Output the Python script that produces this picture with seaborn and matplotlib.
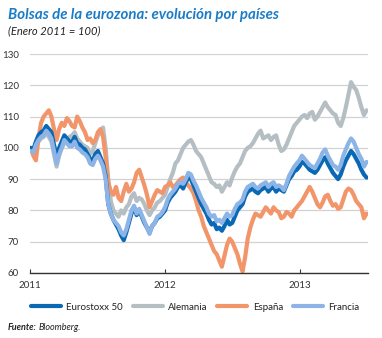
import matplotlib
matplotlib.use("Agg")
import matplotlib.pyplot as plt
import seaborn as sns
import pandas as pd
from matplotlib.lines import Line2D

# ---- data (weekly, Jan 2011 = 100) ----
start_date = "2011-01-03"
eurostoxx = [100, 99.5, 102, 104, 105, 105.5, 107, 106, 105, 101,
             97.5, 100, 102, 104, 103, 102, 102, 103.5, 101.5, 101,
             100, 99.5, 98, 96.5, 96, 98, 99, 97, 95, 91,
             82, 79, 77, 75.5, 74, 72, 70.5, 73, 76, 79,
             81, 78.5, 80, 78, 76, 74.5, 73, 75, 76, 77.5,
             78, 79, 80, 82.5, 84, 85, 86, 87.5, 88, 87,
             89, 90.5, 90, 88, 86, 84, 82, 80.5, 79, 77,
             75.5, 76, 74, 74.5, 73.5, 75, 77, 75.5, 76, 78,
             80, 81, 82, 84.5, 86, 86.5, 87, 86, 85.5, 86.5,
             87, 87.5, 86, 87, 87.5, 86, 87, 86.5, 86, 88,
             90, 91, 92.5, 93, 94, 95.5, 95, 94, 93, 92.5,
             92, 93, 94.5, 96, 97, 95, 93.5, 92, 91, 90,
             91.5, 94, 96, 97.5, 99, 98, 96.5, 95, 93, 91.5,
             90.5]
francia = [99, 98.5, 101, 102.5, 103.5, 104, 105.5, 104.5, 103, 99,
           95, 98, 100, 102.5, 101.5, 100.5, 100.5, 102, 100, 99.5,
           98.5, 98, 97, 95, 94.5, 96.5, 97.5, 96, 94, 90,
           82, 79, 77, 76, 75, 73, 72, 74, 77, 80,
           81.5, 79, 80.5, 78.5, 76.5, 74.5, 72.5, 75, 76, 78,
           78.5, 79.5, 81, 83.5, 85, 86, 87, 88.5, 89, 88.5,
           90, 92, 91.5, 89.5, 88, 86, 84, 82.5, 81, 79,
           78, 78.5, 76.5, 77, 76, 77.5, 79, 78, 78.5, 80.5,
           82, 82.5, 83.5, 86, 87.5, 88, 88.5, 87.5, 87, 88,
           88.5, 89, 87.5, 88.5, 89, 87.5, 88, 87.5, 86.5, 88.5,
           91, 92.5, 94, 95, 96, 97.5, 96.5, 95.5, 94.5, 94,
           93.5, 95, 96.5, 98.5, 99.5, 97.5, 96, 94.5, 94, 93,
           94.5, 97.5, 99.5, 101.5, 103, 102, 100, 98, 96.5, 94,
           95.5]
alemania = [100, 98.5, 100.5, 102, 103, 103.5, 104.5, 103.5, 102, 98,
            94, 97.5, 100, 101.5, 102.5, 103.5, 104, 105, 103, 102,
            101, 100.5, 100, 98, 99, 101.5, 104, 105, 106.5, 100,
            90, 83, 80, 79, 78, 80, 79, 81, 82, 84.5,
            85.5, 83, 84, 83.5, 82, 80, 78.5, 80, 81, 82.5,
            83, 84, 85, 87.5, 90, 92, 95, 96, 98, 100,
            101, 102, 102.5, 101, 99, 98, 97, 95, 93, 91,
            89, 88.5, 87.5, 88, 86, 87.5, 89, 88, 90.5, 92.5,
            94, 95, 97, 99, 100, 100.5, 101.5, 103, 104.5, 105.5,
            103, 103.5, 104, 102.5, 103.5, 104, 101, 99, 99.5, 101,
            103, 105, 107, 108, 109, 110, 110.5, 109.5, 111, 111.5,
            109, 110, 111.5, 113, 114.5, 113, 112, 111, 110.5, 108,
            107, 109.5, 113, 117, 121, 119.5, 118.5, 116, 113, 110.5,
            112]
espana = [100, 97.5, 96, 103, 108, 110, 111, 112, 110, 106,
          102.5, 106, 108, 107, 109.5, 108.5, 107, 106.5, 110, 108.5,
          106.5, 105, 102.5, 103, 101.5, 102.5, 105, 106, 103.5, 97,
          89, 86, 85, 87.5, 84, 83, 86, 88.5, 86, 87,
          89, 92, 93, 90.5, 88, 85, 81, 83, 85, 86.5,
          86, 85.5, 87.5, 88, 89, 87.5, 88, 89, 90, 90.5,
          89, 88, 87, 85.5, 83, 80, 78, 75, 73, 71,
          69, 67, 66, 64, 62, 65.5, 69, 71, 70, 68,
          66, 63, 60.5, 65, 71, 74.5, 77, 79, 78.5, 78,
          79.5, 81, 80, 79, 81, 80, 79.5, 77.5, 78, 79.5,
          79, 78, 80, 81, 82, 83, 84.5, 86, 87.5, 86,
          84, 82, 81, 82.5, 84.5, 85, 83, 81.5, 82, 80.5,
          81, 83.5, 86, 87, 86.5, 85, 83, 82, 81, 77.5,
          79]
series_names = ["Eurostoxx 50", "Alemania", "España", "Francia"]
colors = ["#0a69b4", "#b5bfc3", "#f2956a", "#8cb4e6"]
y_ticks = [60, 70, 80, 90, 100, 110, 120, 130]
x_tick_labels = ["2011", "2012", "2013"]

frames = []
for name, vals in zip(series_names, [eurostoxx, alemania, espana, francia]):
    dates = pd.date_range(start_date, periods=len(vals), freq="7D")
    frames.append(pd.DataFrame({"fecha": dates, "valor": vals, "serie": name}))
df = pd.concat(frames)

sns.set_theme(style="white")
plt.rcParams["font.family"] = ["Lato", "DejaVu Sans"]

fig = plt.figure(figsize=(3.82, 3.38), dpi=100)
ax = fig.add_axes([30 / 382, 1 - 273 / 338, 338 / 382, 219 / 338])

palette = dict(zip(series_names, colors))
draw_order = ["Alemania", "España", "Eurostoxx 50", "Francia"]
for i, name in enumerate(draw_order):
    sns.lineplot(data=df[df["serie"] == name], x="fecha", y="valor",
                 color=palette[name], lw=3.0, ax=ax, zorder=3 + i,
                 legend=False)

ax.set_ylim(60, 130)
ax.set_yticks(y_ticks)
ax.set_xlim(pd.Timestamp("2011-01-01"), pd.Timestamp("2013-07-05"))
ax.set_xticks([pd.Timestamp(f"{y}-01-01") for y in x_tick_labels])
ax.set_xticklabels(x_tick_labels)
ax.set_xlabel("")
ax.set_ylabel("")

ax.grid(axis="y", color="#d2d2d2", lw=0.9)
ax.grid(axis="x", visible=False)
for s in ["top", "right", "left"]:
    ax.spines[s].set_visible(False)
ax.spines["bottom"].set_color("#333333")
ax.spines["bottom"].set_linewidth(1.0)
ax.spines["bottom"].set_zorder(10)

ax.tick_params(axis="y", length=0, pad=8, labelsize=7, labelcolor="#333333")
ax.tick_params(axis="x", direction="in", length=3, width=0.8, color="#333333",
               pad=6, labelsize=7, labelcolor="#333333", bottom=True)

# legend
handles = [Line2D([0], [0], color=c, lw=3.0) for c in colors]
fig.legend(handles, series_names, loc="center", bbox_to_anchor=(195 / 382, 1 - 307 / 338),
           ncol=4, frameon=False, fontsize=7, handlelength=3.1, handletextpad=0.55,
           columnspacing=1.0, labelcolor="#222222")

# texts
fig.text(8 / 382, 1 - 15 / 338, "Bolsas de la eurozona: evolución por países",
         fontsize=10.8, fontweight="bold", fontstyle="italic", color="#1a7cc7",
         va="center", ha="left")
fig.text(8 / 382, 1 - 31 / 338, "(Enero 2011 = 100)", fontsize=8,
         fontstyle="italic", color="#222222", va="center", ha="left")
t1 = fig.text(8 / 382, 1 - 327 / 338, "Fuente:", fontsize=6.5, fontweight="bold",
              fontstyle="italic", color="#222222", va="center", ha="left")
fig.canvas.draw()
bb = t1.get_window_extent()
fig.text((bb.x1 + 2) / 382, 1 - 327 / 338, "Bloomberg.", fontsize=6.5,
         fontstyle="italic", color="#222222", va="center", ha="left")

fig.savefig("out.png", dpi=100)
